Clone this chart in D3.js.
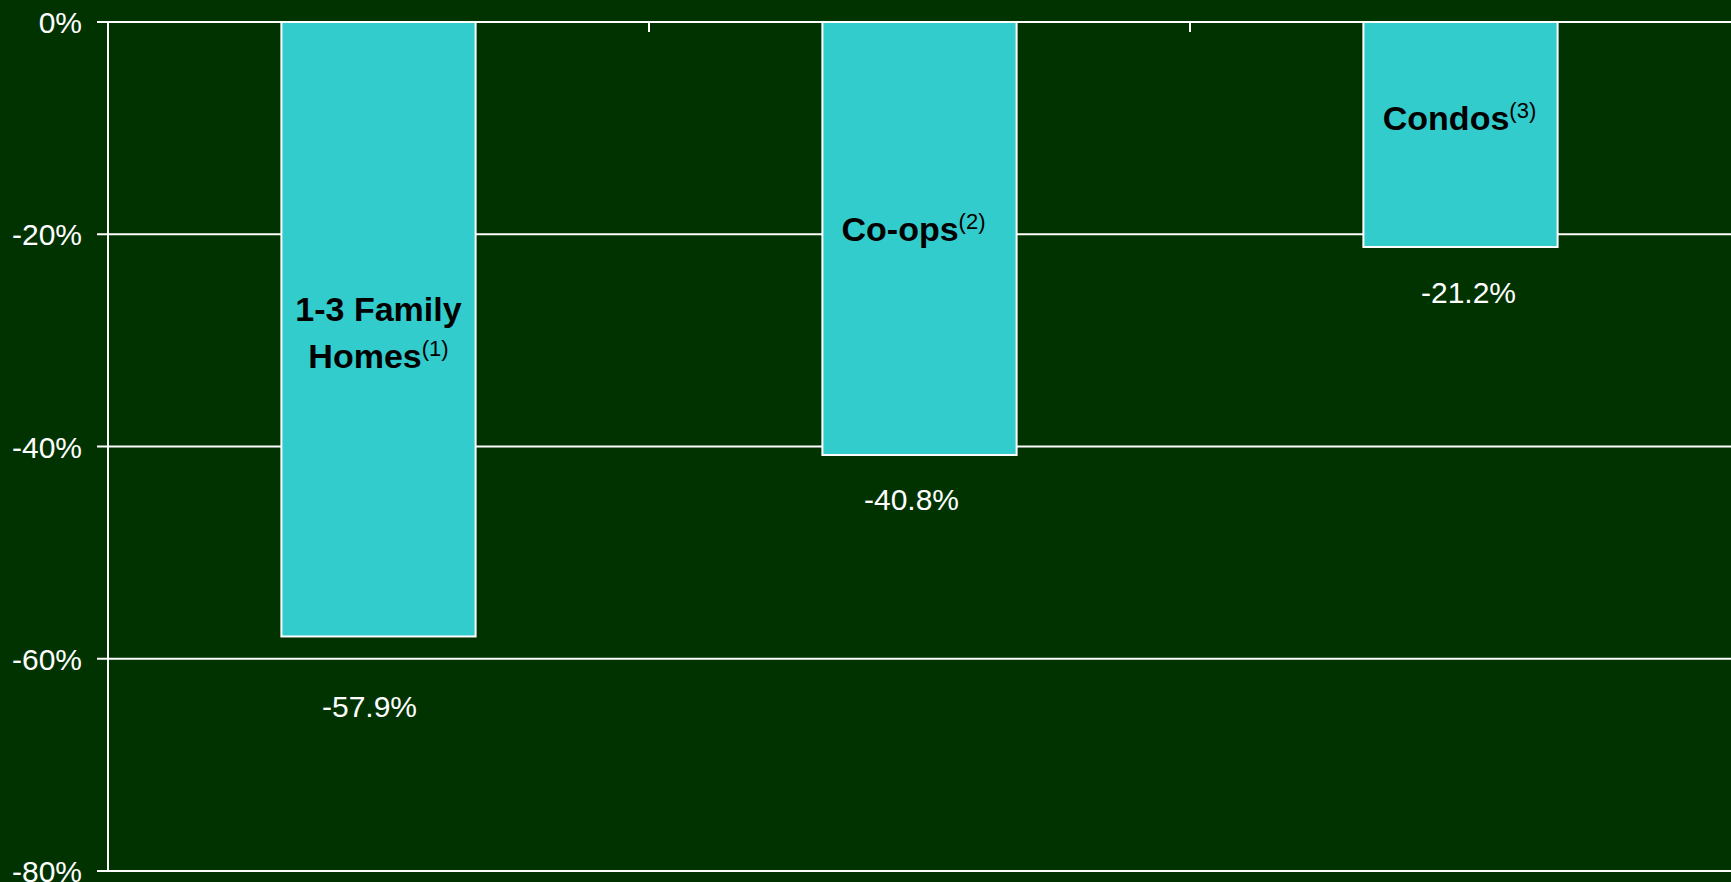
<!DOCTYPE html>
<html>
<head>
<meta charset="utf-8">
<script src="https://cdn.jsdelivr.net/npm/d3@7"></script>
<style>
  html, body { margin: 0; padding: 0; background: #003300; overflow: hidden; }
  svg { display: block; }
  text { font-family: "Liberation Sans", Arial, sans-serif; }
</style>
</head>
<body>
<svg id="chart" width="1731" height="882"></svg>
<script>
// Price change from peak, by housing type
const categories = ["1-3 Family Homes", "Co-ops", "Condos"];
const nameLines = [["1-3 Family", "Homes"], ["Co-ops"], ["Condos"]];
const footnotes = ["(1)", "(2)", "(3)"];
const values = [-57.9, -40.8, -21.2];
const valueLabels = ["-57.9%", "-40.8%", "-21.2%"];
const yTicks = [0, -20, -40, -60, -80];
const yTickLabels = ["0%", "-20%", "-40%", "-60%", "-80%"];

// Label placement tweaks (pixels)
const nameOffsetX = [0, -6, -1];
const nameOffsetY = [-8, 2.5, -4];
const valueOffsetX = [-9, -8, 8];
const valueOffsetY = [81, 55, 56];

const W = 1731, H = 882;
const m = { left: 108, right: 0, top: 22, bottom: 11 };

const svg = d3.select("#chart");
svg.append("rect").attr("width", W).attr("height", H).attr("fill", "#003300");

const x = d3.scaleBand()
  .domain(categories)
  .range([m.left, W - m.right])
  .paddingInner(0.641)
  .paddingOuter(0.3205);

const y = d3.scaleLinear()
  .domain([0, -80])
  .range([m.top, H - m.bottom]);

// horizontal gridlines
svg.append("g")
  .selectAll("line")
  .data(yTicks)
  .join("line")
  .attr("x1", m.left - 11)
  .attr("x2", W)
  .attr("y1", d => y(d))
  .attr("y2", d => y(d))
  .attr("stroke", "#ffffff")
  .attr("stroke-width", 2);

// value axis
const yAxis = d3.axisLeft(y)
  .tickValues(yTicks)
  .tickFormat((d, i) => yTickLabels[i])
  .tickSize(0)
  .tickPadding(26);
const gy = svg.append("g").attr("transform", `translate(${m.left},0)`).call(yAxis);
gy.select(".domain").remove();
gy.selectAll("text")
  .attr("fill", "#ffffff")
  .attr("font-size", 30)
  .attr("dy", "0.35em")
  .style("font-family", "'Liberation Sans', Arial, sans-serif");

svg.append("line")
  .attr("x1", m.left).attr("x2", m.left)
  .attr("y1", y(0)).attr("y2", y(-80))
  .attr("stroke", "#ffffff").attr("stroke-width", 2);

// bars
svg.append("g")
  .selectAll("rect")
  .data(values)
  .join("rect")
  .attr("x", (d, i) => x(categories[i]))
  .attr("y", y(0))
  .attr("width", x.bandwidth())
  .attr("height", d => y(d) - y(0))
  .attr("fill", "#33cccc")
  .attr("stroke", "#ffffff")
  .attr("stroke-width", 2);

// category boundary ticks along the zero line
const boundaries = categories.slice(1).map(c => x(c) - x.step() * x.paddingInner() / 2);
svg.append("g")
  .selectAll("line")
  .data(boundaries)
  .join("line")
  .attr("x1", d => d).attr("x2", d => d)
  .attr("y1", y(0)).attr("y2", y(0) + 10)
  .attr("stroke", "#ffffff").attr("stroke-width", 2);

svg.append("line")
  .attr("x1", m.left).attr("x2", W)
  .attr("y1", y(0)).attr("y2", y(0))
  .attr("stroke", "#ffffff").attr("stroke-width", 2);

// category names inside bars
categories.forEach((c, i) => {
  const cx = x(c) + x.bandwidth() / 2 + nameOffsetX[i];
  const mid = (y(0) + y(values[i])) / 2;
  const firstBase = mid + nameOffsetY[i];
  const lines = nameLines[i];
  const lh = 47;
  lines.forEach((ln, k) => {
    const t = svg.append("text")
      .attr("x", cx)
      .attr("y", firstBase + k * lh)
      .attr("text-anchor", "middle")
      .attr("fill", "#000000")
      .attr("font-size", 34)
      .attr("font-weight", "bold");
    t.append("tspan").text(ln);
    if (k === lines.length - 1) {
      t.append("tspan")
        .attr("font-size", 22)
        .attr("font-weight", "normal")
        .attr("dy", -12)
        .text(footnotes[i]);
    }
  });
});

// value labels below bars
svg.append("g")
  .selectAll("text")
  .data(values)
  .join("text")
  .attr("x", (d, i) => x(categories[i]) + x.bandwidth() / 2 + valueOffsetX[i])
  .attr("y", (d, i) => y(d) + valueOffsetY[i])
  .attr("text-anchor", "middle")
  .attr("fill", "#ffffff")
  .attr("font-size", 30)
  .text((d, i) => valueLabels[i]);
</script>
</body>
</html>
